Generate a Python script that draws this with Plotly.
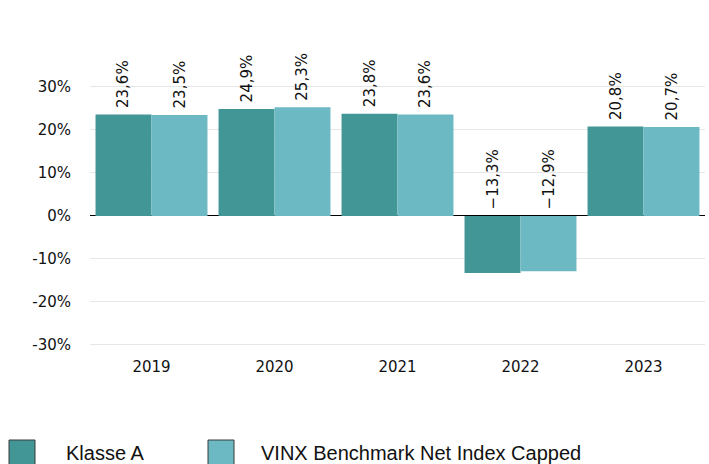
import plotly.graph_objects as go

years = ["2019", "2020", "2021", "2022", "2023"]
klasse_a = [23.6, 24.9, 23.8, -13.3, 20.8]
benchmark = [23.5, 25.3, 23.6, -12.9, 20.7]
series_names = ["Klasse A", "VINX Benchmark Net Index Capped"]
colors = ["#429696", "#6cb9c4"]
y_ticks = [-30, -20, -10, 0, 10, 20, 30]
y_tick_labels = ["-30%", "-20%", "-10%", "0%", "10%", "20%", "30%"]

L, R, T, B = 90, 4, 41, 108
PW, PH = 709 - L - R, 464 - T - B


def fmt(v):
    s = f"{abs(v):.1f}".replace(".", ",") + "%"
    return ("\u2212" + s) if v < 0 else s


fig = go.Figure()
for name, vals, col in zip(series_names, [klasse_a, benchmark], colors):
    fig.add_bar(x=years, y=vals, name=name, marker=dict(color=col, line=dict(width=0)),
                showlegend=False)

# rotated value labels above each bar (above the zero line for negatives);
# x is the category index on the category axis
annotations = []
for i, yr in enumerate(years):
    for vals, shift in ((klasse_a, -28), (benchmark, 28)):
        v = vals[i]
        annotations.append(dict(
            x=i, y=max(v, 0), xref="x", yref="y", text=fmt(v),
            textangle=-90, showarrow=False, xshift=shift, yshift=4,
            yanchor="bottom", xanchor="center",
            font=dict(family="DejaVu Sans", size=15, color="#111111"),
        ))

# legend drawn as swatches plus labels along the bottom edge
shapes = []
legend_x = [(9, 64), (208, 259)]
for (sx, tx), name, col in zip(legend_x, series_names, colors):
    shapes.append(dict(type="rect", xref="paper", yref="paper",
                       x0=(sx - L) / PW, x1=(sx + 26 - L) / PW,
                       y0=-(440 - (T + PH)) / PH, y1=-(466 - (T + PH)) / PH,
                       fillcolor=col, line=dict(color="#3a3a3a", width=1)))
    annotations.append(dict(x=(tx - L) / PW, y=-(453 - (T + PH)) / PH, xref="paper", yref="paper",
                            text=name, showarrow=False, xanchor="left", yanchor="middle",
                            font=dict(family="Liberation Sans", size=20, color="#111111")))

fig.update_layout(
    width=709, height=464,
    margin=dict(l=L, r=R, t=T, b=B),
    barmode="group", bargap=0.09, bargroupgap=0,
    plot_bgcolor="white", paper_bgcolor="white",
    font=dict(family="DejaVu Sans", size=15, color="#111111"),
    annotations=annotations, shapes=shapes,
    xaxis=dict(type="category", categoryorder="array", categoryarray=years,
               range=[-0.5, len(years) - 0.5], showgrid=False, showline=False, ticks="",
               tickfont=dict(size=15)),
    yaxis=dict(range=[-32.6, 40.7], tickvals=y_ticks, ticktext=y_tick_labels,
               showgrid=True, gridcolor="#e6e6e6", gridwidth=1,
               zeroline=True, zerolinecolor="#000000", zerolinewidth=1,
               ticklabelstandoff=18, tickfont=dict(size=15)),
)

fig.write_html("out.html")
